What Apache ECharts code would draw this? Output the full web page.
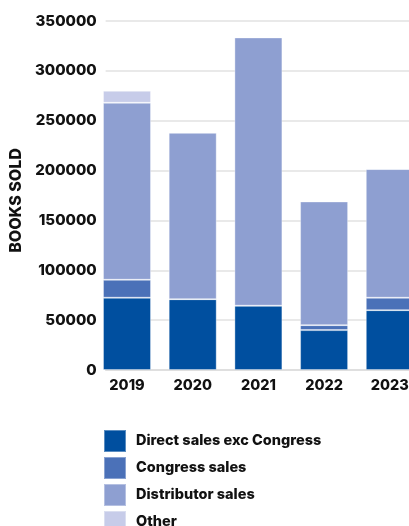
<!DOCTYPE html>
<html><head><meta charset="utf-8">
<style>html,body{margin:0;padding:0;background:#fff;overflow:hidden;width:409px;height:526px}#c{width:440px;height:526px}</style>
<script src="https://cdn.jsdelivr.net/npm/echarts@6/dist/echarts.min.js"></script>
</head><body><div id="c"></div>
<script>
const years = ['2019','2020','2021','2022','2023'];
const directSales = [72500, 71000, 64500, 40000, 60000];
const congressSales = [18000, 0, 0, 5000, 12500];
const distributorSales = [177500, 167000, 269000, 124000, 129000];
const otherSales = [12000, 0, 0, 0, 0];
const seriesNames = ['Direct sales exc Congress','Congress sales','Distributor sales','Other'];
const colors = ['#004f9f','#4b71b8','#8e9fd1','#c7cce9'];
const yTicks = {min: 0, max: 350000, interval: 50000};

const F = 'Inter, "Noto Sans", sans-serif';
const chart = echarts.init(document.getElementById('c'));
const mk = (name, data, i) => ({
  name, type: 'bar', stack: 'total', data, xAxisIndex: 0, yAxisIndex: 0,
  barWidth: 48, itemStyle: {color: colors[i], borderColor: 'rgba(255,255,255,0.35)', borderWidth: 1},
  emphasis: {disabled: true}
});
chart.setOption({
  animation: false,
  color: colors,
  grid: [
    {left: 94.15, width: 328.5, top: 21, bottom: 156},
    {left: 103, width: 306, top: 21, bottom: 156}
  ],
  xAxis: [
    {type: 'category', data: years, gridIndex: 0, axisLine: {show: false}, axisTick: {show: false},
     axisLabel: {color: '#111', fontFamily: F, fontWeight: 800, fontSize: 14.5, margin: 8}},
    {type: 'value', gridIndex: 1, min: 0, max: 1, axisLabel: {show: false}, splitLine: {show: false},
     axisTick: {show: false}, axisLine: {show: true, lineStyle: {color: '#dcdcdc', width: 1.5}}}
  ],
  yAxis: [
    {type: 'value', gridIndex: 0, min: yTicks.min, max: yTicks.max, interval: yTicks.interval, show: false},
    {type: 'value', gridIndex: 1, min: yTicks.min, max: yTicks.max, interval: yTicks.interval,
     name: 'BOOKS SOLD', nameLocation: 'middle', nameRotate: 90, nameGap: 80,
     nameTextStyle: {color: '#111', fontFamily: F, fontWeight: 800, fontSize: 16, padding: [0, 10, 0, 0]},
     axisLine: {show: false}, axisTick: {show: false},
     axisLabel: {color: '#111', fontFamily: F, fontWeight: 800, fontSize: 15, margin: 9,
       formatter: v => String(v)},
     splitLine: {lineStyle: {color: '#e2e2e2', width: 1.5}}}
  ],
  legend: {
    orient: 'vertical', left: 103, top: 429, height: 140, itemWidth: 22, itemHeight: 22, itemGap: 3,
    icon: 'rect', data: seriesNames,
    textStyle: {color: '#111', fontFamily: F, fontWeight: 800, fontSize: 14.5, padding: [0, 0, 0, 5]},
    padding: 0
  },
  series: [
    mk(seriesNames[0], directSales, 0),
    mk(seriesNames[1], congressSales, 1),
    mk(seriesNames[2], distributorSales, 2),
    mk(seriesNames[3], otherSales, 3)
  ]
});
</script></body></html>
